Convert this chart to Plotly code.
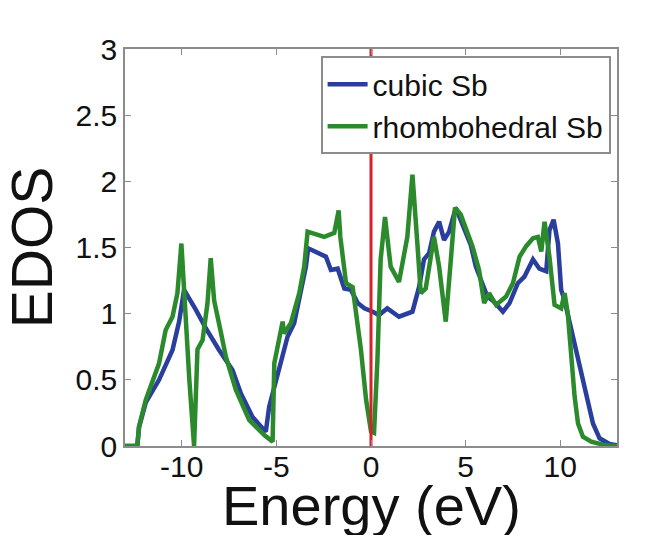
import plotly.graph_objects as go

# Energy (eV) and EDOS values
cubic_x = [-13, -12.35, -12.26, -11.9, -11.2, -10.49, -10.14, -9.88, -9.26, -8.73, -8.03, -7.32, -6.88, -6.26,
           -5.9, -5.56, -5.38, -5.11, -4.76, -4.41, -4.06, -3.70, -3.44, -3.32, -2.82, -2.38, -2.12, -1.76,
           -1.41, -1.06, -0.7, -0.35, 0.09, 0.42, 0.86, 1.48, 2.19, 2.36, 2.54, 2.80, 3.07, 3.33, 3.6, 3.86,
           4.13, 4.48, 4.83, 5.27, 5.54, 5.89, 6.15, 6.5, 6.97, 7.32, 7.76, 8.11, 8.56, 8.9, 9.26, 9.43, 9.65,
           9.88, 10.05, 10.23, 10.58, 11.02, 11.38, 11.73, 12.08, 12.6, 13]
cubic_y = [0, 0, 0.14, 0.33, 0.5, 0.726, 0.94, 1.18, 1.03, 0.89, 0.726, 0.575, 0.398, 0.22,
           0.16, 0.108, 0.297, 0.448, 0.65, 0.826, 0.927, 1.18, 1.355, 1.494, 1.456, 1.43, 1.33, 1.34,
           1.19, 1.18, 1.08, 1.04, 1.015, 0.99, 1.04, 0.977, 1.015, 1.10, 1.20, 1.41, 1.456, 1.62, 1.695, 1.557,
           1.62, 1.80, 1.67, 1.52, 1.355, 1.23, 1.13, 1.09, 1.015, 1.08, 1.23, 1.28, 1.41, 1.34, 1.32, 1.63, 1.71,
           1.53, 1.18, 1.10, 0.877, 0.625, 0.373, 0.17, 0.058, 0.015, 0.005]

rhombo_x = [-13, -12.35, -12.26, -11.9, -11.2, -10.85, -10.49, -10.23, -10.02, -9.88, -9.6, -9.35, -9.17, -8.9,
            -8.64, -8.47, -8.29, -7.94, -7.67, -7.14, -6.44, -5.64, -5.2, -5.11, -4.85, -4.67, -4.6, -4.23,
            -3.79, -3.53, -3.35, -3.08, -2.47, -1.94, -1.71, -1.62, -1.32, -0.97, -0.53, -0.26, 0.0, 0.16,
            0.34, 0.51, 0.74, 1.04, 1.48, 1.92, 2.19, 2.45, 2.63, 2.89, 3.16, 3.33, 3.6, 3.95, 4.22, 4.44,
            4.74, 5.1, 5.36, 5.71, 5.98, 6.24, 6.61, 7.14, 7.5, 7.85, 8.2, 8.56, 8.82, 9.0, 9.17, 9.43, 9.7,
            10.05, 10.23, 10.4, 10.58, 10.76, 10.94, 11.2, 11.64, 12.26, 13]
rhombo_y = [0, 0, 0.146, 0.35, 0.625, 0.877, 0.977, 1.154, 1.53, 1.15, 0.5, 0.0, 0.73, 0.80,
            1.08, 1.42, 1.10, 0.864, 0.675, 0.423, 0.197, 0.083, 0.033, 0.625, 0.80, 0.94, 0.85, 0.93,
            1.155, 1.355, 1.62, 1.61, 1.58, 1.61, 1.78, 1.58, 1.23, 1.20, 0.726, 0.35, 0.11, 0.10,
            0.65, 1.41, 1.73, 1.355, 1.24, 1.58, 2.05, 1.53, 1.155, 1.19, 1.41, 1.58, 1.355, 0.94, 1.41, 1.80,
            1.75, 1.61, 1.51, 1.33, 1.08, 1.155, 1.066, 1.13, 1.23, 1.43, 1.51, 1.57, 1.58, 1.47, 1.695, 1.43, 1.066,
            1.04, 1.155, 1.0, 0.675, 0.373, 0.17, 0.07, 0.033, 0.01, 0]

fermi_x = [0, 0]
fermi_y = [0, 3]

x_ticks = [-10, -5, 0, 5, 10]
x_tick_text = ["-10", "-5", "0", "5", "10"]
y_ticks = [0, 0.5, 1, 1.5, 2, 2.5, 3]
y_tick_text = ["0", "0.5", "1", "1.5", "2", "2.5", "3"]
x_title = "Energy (eV)"
y_title = "EDOS"

FONT = "Liberation Sans, Arial, sans-serif"

fig = go.Figure()
fig.add_trace(go.Scatter(x=cubic_x, y=cubic_y, mode="lines", name="cubic Sb",
                         line=dict(color="#2a3e9e", width=4.5)))
fig.add_trace(go.Scatter(x=rhombo_x, y=rhombo_y, mode="lines", name="rhombohedral Sb",
                         line=dict(color="#2b8a2b", width=4.5)))
fig.add_trace(go.Scatter(x=fermi_x, y=fermi_y, mode="lines", showlegend=False,
                         line=dict(color="#d8202a", width=3)))

axis_common = dict(showline=True, linecolor="#8c8c8c", linewidth=1.5, mirror="ticks",
                   ticks="inside", ticklen=6, tickcolor="#8c8c8c", tickwidth=1,
                   showgrid=False, zeroline=False, automargin=False,
                   tickfont=dict(family=FONT, size=30, color="#111111"))

fig.update_layout(
    width=665, height=535,
    margin=dict(l=125, r=48, t=49, b=89),
    paper_bgcolor="white", plot_bgcolor="white",
    font=dict(family=FONT, color="#111111"),
    xaxis=dict(range=[-13, 13], tickvals=x_ticks, ticktext=x_tick_text, ticklabelstandoff=-7,
               **axis_common),
    yaxis=dict(range=[0, 3], tickvals=y_ticks, ticktext=y_tick_text,
               title=dict(text=y_title, font=dict(family=FONT, size=57)),
               **axis_common),
    legend=dict(x=0.987, y=0.982, xanchor="right", yanchor="top",
                bgcolor="white", bordercolor="#8c8c8c", borderwidth=2,
                font=dict(family=FONT, size=30, color="#111111"),
                itemwidth=40, tracegroupgap=0),
    showlegend=True,
)

# x-axis title placed just below the tick labels, as in the reference
fig.add_annotation(text=x_title, xref="paper", yref="paper", x=0.5, y=0,
                   xanchor="center", yanchor="top", yshift=-26, showarrow=False,
                   font=dict(family=FONT, size=56, color="#111111"))

fig.write_html("out.html")
